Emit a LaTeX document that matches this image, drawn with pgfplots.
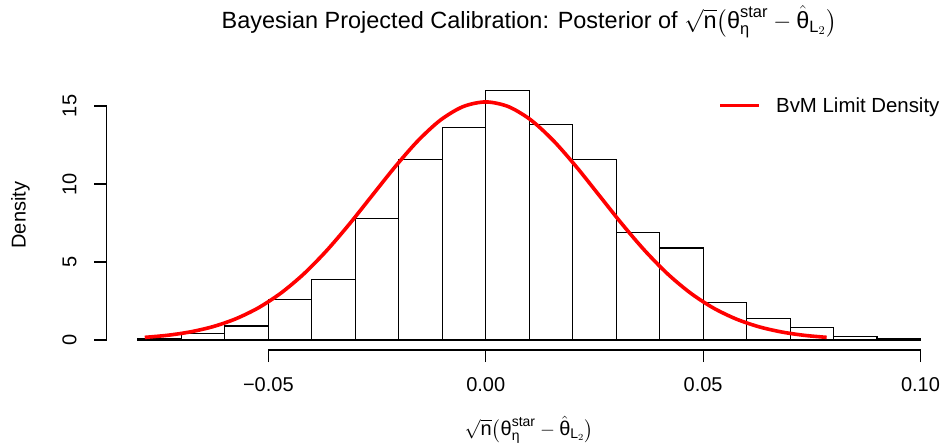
\documentclass[border=0pt]{standalone}
\usepackage{amsmath}
\usepackage{fontspec}
\setmainfont{Liberation Sans}
\usepackage{pgfplots}
\pgfplotsset{compat=1.18}
\begin{document}
\begin{tikzpicture}
\path[use as bounding box] (-79.95pt,-70.5pt) rectangle (627.3pt,262.5pt);
\begin{axis}[
  at={(-4.24pt,0pt)}, anchor=south west,
  scale only axis, width=638.14pt, height=202.2pt,
  xmin=-0.0885, xmax=0.1072, ymin=-0.64, ymax=16.64,
  axis x line*=bottom, axis y line*=left,
  axis line style={draw=none},
  clip=false,
  xtick={-0.05,0,0.05,0.10}, xticklabels={−0.05,0.00,0.05,0.10},
  ytick={0,5,10,15}, yticklabels={0,5,10,15},
  tick align=outside, major tick length=9pt,
  tick style={black, line width=0.8pt},
  ytick style={draw=none},
  every tick label/.append style={font=\fontsize{15}{18}\selectfont},
  xticklabel style={anchor=base, yshift=-22pt},
  yticklabel style={rotate=90, anchor=south, inner sep=0pt},
  yticklabel shift=9.06pt,
  title={Bayesian Projected Calibration: Posterior of $\sqrt{\text{n}}\big(\text{θ}^{\text{star}}_{\text{η}}-\hat{\text{θ}}_{\text{L}_{2}}\big)$},
  title style={at={(0.5033,1.1621)}, anchor=base, font=\fontsize{17.6}{20}\selectfont},
  xlabel={$\sqrt{\text{n}}\big(\text{θ}^{\text{star}}_{\text{η}}-\hat{\text{θ}}_{\text{L}_{2}}\big)$},
  xlabel style={at={(0.5033,-0.3179)}, anchor=base, font=\fontsize{15}{18}\selectfont},
  ylabel={Density},
  ylabel style={at={(-0.09455,0.5)}, anchor=center, font=\fontsize{15}{18}\selectfont},
  legend style={draw=none, fill=none, at={(0.7252,0.9062)}, anchor=west, inner sep=0pt,
    column sep=9.5pt, font=\fontsize{15.3}{18}\selectfont},
  legend image code/.code={\draw[#1] (0pt,0pt) -- (29.25pt,0pt);},
]
\addplot[ybar interval, draw=black, fill=white, line width=0.8pt, forget plot] coordinates {
(-0.08,0.1) (-0.07,0.4) (-0.06,0.9) (-0.05,2.6) (-0.04,3.9) (-0.03,7.8)
(-0.02,11.6) (-0.01,13.6) (0.00,16.0) (0.01,13.8) (0.02,11.6) (0.03,6.9)
(0.04,5.9) (0.05,2.4) (0.06,1.4) (0.07,0.8) (0.08,0.2) (0.09,0.1) (0.10,0.1)
};
% y axis line and its ticks (R style: line only from 0 to 15)
\addplot[black, line width=1.2pt, forget plot] coordinates {(-0.0872,0) (-0.0872,15)};
\addplot[black, line width=1.2pt, forget plot] coordinates {(-0.0900,0) (-0.0872,0)};
\addplot[black, line width=1.2pt, forget plot] coordinates {(-0.0900,5) (-0.0872,5)};
\addplot[black, line width=1.2pt, forget plot] coordinates {(-0.0900,10) (-0.0872,10)};
\addplot[black, line width=1.2pt, forget plot] coordinates {(-0.0900,15) (-0.0872,15)};
% x axis line from -0.05 to 0.10
\addplot[black, line width=0.9pt, forget plot] coordinates {(-0.05,-0.64) (0.10,-0.64)};
\addplot[red, line width=2.7pt, smooth, no marks] coordinates {
(-0.07842,0.170) (-0.07319,0.303) (-0.06796,0.520) (-0.06274,0.857) (-0.05751,1.357)
(-0.05228,2.065) (-0.04705,3.020) (-0.04182,4.243) (-0.03660,5.727) (-0.03137,7.428)
(-0.02614,9.256) (-0.02091,11.081) (-0.01568,12.746) (-0.01046,14.087) (-0.00523,14.958)
(0,15.26)
(0.00523,14.958) (0.01046,14.087) (0.01568,12.746) (0.02091,11.081) (0.02614,9.256)
(0.03137,7.428) (0.03660,5.727) (0.04182,4.243) (0.04705,3.020) (0.05228,2.065)
(0.05751,1.357) (0.06274,0.857) (0.06796,0.520) (0.07319,0.303) (0.07842,0.170)
};
\addlegendentry{BvM Limit Density}
\end{axis}
\end{tikzpicture}
\end{document}
